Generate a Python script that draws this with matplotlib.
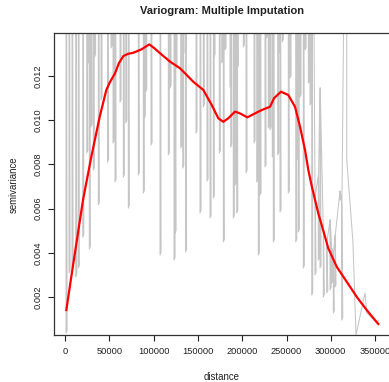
import numpy as np
import matplotlib
matplotlib.use("Agg")
import matplotlib.pyplot as plt

# ---------------- data ----------------
# smoothed (red) variogram
smooth_dist = [1470, 7110, 13540, 20320, 29680, 39170, 46620, 50790, 56430, 60950,
               65800, 71000, 77090, 86570, 95150, 101000, 107230, 118510, 129800, 144810,
               156100, 165580, 173030, 178670, 184320, 191880, 197520, 205760, 214450, 222010,
               231380, 236000, 243800, 252040, 259600, 265250, 270890, 274620, 278450, 285900,
               293460, 297180, 306660, 317950, 329240, 340530, 353630]
smooth_semivar = [0.00142, 0.00293, 0.00462, 0.00640, 0.00835, 0.01016, 0.01137, 0.01173,
                  0.01212, 0.01259, 0.01290, 0.01300, 0.01305, 0.01321, 0.01343, 0.01325,
                  0.01303, 0.01265, 0.01235, 0.01174, 0.01137, 0.01069, 0.01009, 0.00993,
                  0.01009, 0.01039, 0.01031, 0.01013, 0.01031, 0.01046, 0.01061, 0.01100,
                  0.01129, 0.01114, 0.01061, 0.00971, 0.00866, 0.00775, 0.00703, 0.00579,
                  0.00474, 0.00421, 0.00338, 0.00270, 0.00202, 0.00142, 0.00079]

# imputed variograms (grey): each drop goes from a peak value to a low value
imp_dist = [1130, 4510, 7900, 12080, 15010, 19980, 24490, 26300, 27430, 29350,
            31940, 33300, 37590, 40630, 47970, 51920, 54180, 56440, 62080, 65800,
            68510, 71450, 82730, 88380, 89510, 91090, 97070, 107230, 116600, 118510,
            123020, 124150, 125280, 130590, 132850, 135440, 136010, 147860, 152370, 156100,
            160280, 163660, 167390, 168180, 174160, 176870, 178670, 180590, 186230, 187020,
            189960, 191880, 193800, 194480, 201250, 204300, 213330, 216370, 218180, 219310,
            220100, 225740, 227660, 229470, 231380, 233980, 235110, 240070, 241540, 242670,
            245270, 252040, 253960, 260400, 261520, 263330, 265250, 268970, 270890, 274620,
            276530, 278450, 282180, 285900, 287820, 291540, 295380, 299110, 301020, 302830,
            304750, 310390, 312310]
imp_low = [0.00038, 0.00310, 0.00332, 0.00292, 0.00332, 0.00472, 0.00852, 0.01259, 0.00418, 0.00970,
           0.00775, 0.01286, 0.00617, 0.01092, 0.00811, 0.01327, 0.00897, 0.00721, 0.01082, 0.00744,
           0.00988, 0.00603, 0.00753, 0.00671, 0.01010, 0.01128, 0.00888, 0.00391, 0.00843, 0.01146,
           0.00368, 0.00490, 0.01236, 0.00875, 0.00784, 0.01304, 0.00404, 0.00942, 0.00581, 0.01060,
           0.00725, 0.00558, 0.00649, 0.01286, 0.00852, 0.01259, 0.00450, 0.01318, 0.01150, 0.00879,
           0.00558, 0.00707, 0.00581, 0.01236, 0.01331, 0.00762, 0.00897, 0.00721, 0.00391, 0.00762,
           0.00662, 0.00789, 0.01372, 0.00965, 0.00956, 0.00834, 0.00450, 0.00843, 0.01304, 0.00585,
           0.01354, 0.00671, 0.01191, 0.00450, 0.00820, 0.00495, 0.01105, 0.00332, 0.01318, 0.01168,
           0.01069, 0.00210, 0.00301, 0.00368, 0.00332, 0.00201, 0.00219, 0.00233, 0.00264, 0.00129,
           0.00246, 0.00640, 0.00097]
imp_peak = [0.03] * 82 + [0.00660, 0.00750, 0.01146, 0.00500, 0.00450, 0.00550, 0.00420, 0.00400,
                          0.00480, 0.00680, 0.00620]
tail_dist = [318000, 318000, 325000, 328450, 338610, 340530, 351820, 354000]
tail_semivar = [0.03, 0.00820, 0.00450, 0.00029, 0.00219, 0.00129, 0.00084, 0.00095]

x_ticks = [0, 50000, 100000, 150000, 200000, 250000, 300000, 350000]
y_ticks = [0.002, 0.004, 0.006, 0.008, 0.010, 0.012]

# ---------------- figure ----------------
plt.rcParams['font.family'] = ['Liberation Sans', 'DejaVu Sans']
W, H = 389, 382
fig = plt.figure(figsize=(W / 100, H / 100), dpi=100)
ax = fig.add_axes([54.3 / W, 1 - 335 / H, (393.7 - 54.3) / W, (335 - 33.3) / H])

# grey path built from the drops (down-stroke, small hook, up-stroke)
gx, gy = [], []
hook_dx, hook_dy = 1200, 0.00012
for d, lo, pk in zip(imp_dist, imp_low, imp_peak):
    gx += [d, d, d + hook_dx, d + 250]
    gy += [pk, lo, lo + hook_dy, pk]
gx += tail_dist
gy += tail_semivar
ax.plot(gx, gy, color='#c6c6c6', lw=0.75)

ax.plot(smooth_dist, smooth_semivar, color='#ff0000', lw=1.6)

ax.set_xlim(-12100, 371000)
ax.set_ylim(0.000293, 0.01393)
ax.set_xticks(x_ticks)
ax.set_xticklabels([str(v) for v in x_ticks])
ax.set_yticks(y_ticks)
ax.set_yticklabels(['%.3f' % v for v in y_ticks], rotation=90, va='center')
ax.tick_params(axis='both', direction='out', length=4.3, width=0.8, color='#222222',
               labelsize=6.7, labelcolor='#222222')
ax.tick_params(axis='x', pad=4.0)
ax.tick_params(axis='y', pad=4.0)
for s in ['left', 'bottom', 'top', 'right']:
    ax.spines[s].set_color('#333333')
    ax.spines[s].set_linewidth(0.9)

fig.text(222 / W, 1 - 10.7 / H, 'Variogram: Multiple Imputation', ha='center', va='center',
         fontsize=8, fontweight='bold', color='#222222')
fig.text(221.7 / W, 1 - 376.7 / H, 'distance', ha='center', va='center', fontsize=6.9,
         color='#222222')
fig.text(14 / W, 1 - 185 / H, 'semivariance', ha='center', va='center', rotation=90,
         fontsize=6.9, color='#222222')

fig.savefig('out.png', dpi=100)
